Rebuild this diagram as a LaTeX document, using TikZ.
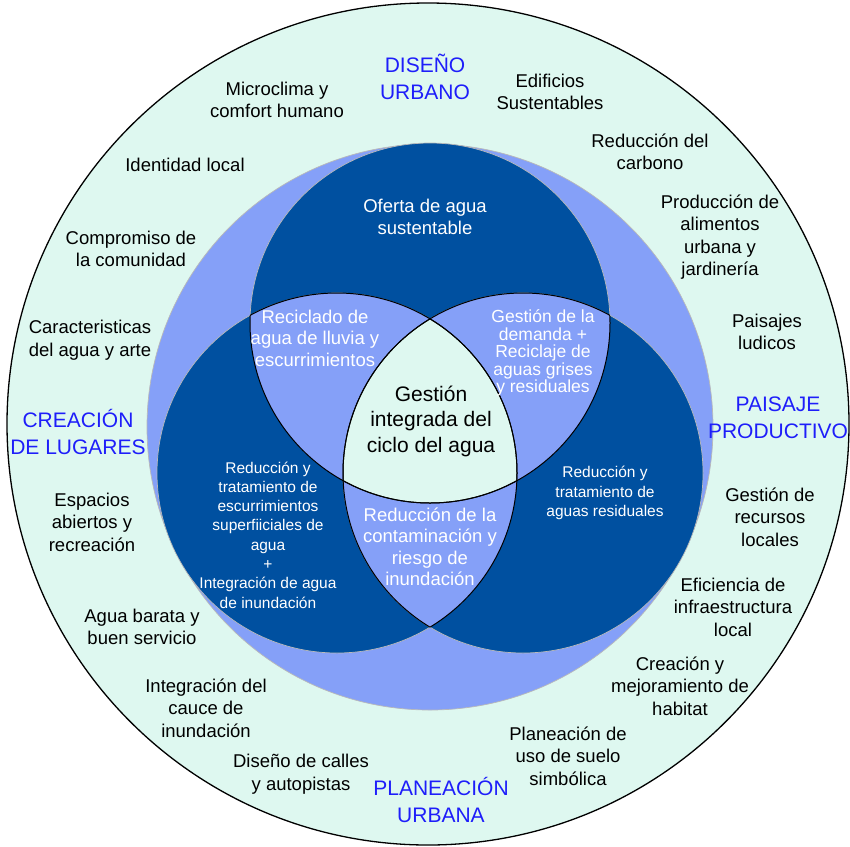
\documentclass[tikz,border=0pt]{standalone}
\usepackage{fontspec}
\setmainfont{Liberation Sans}
\usetikzlibrary{positioning}

\definecolor{mintbg}{RGB}{222,248,240}
\definecolor{ringblue}{RGB}{133,160,248}
\definecolor{darkblue}{RGB}{0,80,160}
\definecolor{zoneblue}{RGB}{30,30,250}

\begin{document}
\begin{tikzpicture}[x=1pt, y=-1pt,
  outer text/.style={align=center, inner sep=0pt, font=\fontsize{18.5}{22.5}\selectfont},
  zone text/.style={align=center, inner sep=0pt, text=zoneblue, font=\fontsize{21}{27}\selectfont},
  venn text/.style={align=center, inner sep=0pt, text=white, font=\fontsize{18.5}{21.5}\selectfont},
  small text/.style={venn text, font=\fontsize{15.5}{19.3}\selectfont},
  lens line/.style={black, line width=1pt},
  venn circle/.style={fill=darkblue, draw=gray!55, line width=0.7pt}]

  \useasboundingbox (0,0) rectangle (850,846);

  % Define circles
  \def\rv{180pt}
  \coordinate (ctop) at (430,323);
  \coordinate (cleft) at (337,473);
  \coordinate (cright) at (523,473);

  \draw[fill=mintbg, line width=1.3pt] (428,424) circle[radius=421pt];
  \draw[fill=ringblue, draw=gray!55, line width=0.7pt] (430,427) circle[radius=283pt];
  \foreach \c in {ctop, cleft, cright}
    \draw[venn circle] (\c) circle[radius=\rv];

  % Overlaps
  \begin{scope}
    \clip (ctop) circle[radius=\rv];
    \fill[ringblue] (cleft) circle[radius=\rv];
    \fill[ringblue] (cright) circle[radius=\rv];
  \end{scope}
  \begin{scope}
    \clip (cleft) circle[radius=\rv];
    \fill[ringblue] (cright) circle[radius=\rv];
  \end{scope}
  \begin{scope}
    \clip (ctop) circle[radius=\rv];
    \clip (cleft) circle[radius=\rv];
    \fill[mintbg] (cright) circle[radius=\rv];
  \end{scope}
  \foreach \a/\b in {ctop/cleft, ctop/cright, cleft/ctop, cleft/cright, cright/ctop, cright/cleft} {
    \begin{scope}
      \clip (\b) circle[radius=\rv];
      \draw[lens line] (\a) circle[radius=\rv];
    \end{scope}
  }

  % Define inner labels
  \node[venn text] (oferta) at (425,217) {Oferta de agua\\sustentable};
  \node[venn text] (reciclado) at (315,338) {Reciclado de\\agua de lluvia y\\escurrimientos};
  \node[venn text, font=\fontsize{17.5}{17.5}\selectfont] (demanda) at (543,353) {Gesti\'on de la\\demanda +\\Reciclaje de\\aguas grises\\y residuales};
  \node[align=center, inner sep=0pt, font=\fontsize{21}{25.5}\selectfont] (gestion) at (431,421) {Gesti\'on\\integrada del\\ciclo del agua};
  \node[small text] (escurrimientos) at (268,535) {Reducci\'on y\\tratamiento de\\escurrimientos\\superfiiciales de\\agua\\+\\Integraci\'on de agua\\de inundaci\'on};
  \node[venn text] (contaminacion) at (430,547) {Reducci\'on de la\\contaminaci\'on y\\riesgo de\\inundaci\'on};
  \node[small text] (residuales) at (605,493) {Reducci\'on y\\tratamiento de\\aguas residuales};

  % Define outer labels
  \node[zone text] (diseno) at (425,77) {DISE\~NO\\URBANO};
  \node[zone text] (creacion) at (78,432) {CREACI\'ON\\DE LUGARES};
  \node[zone text] (paisaje) at (778,418) {PAISAJE\\PRODUCTIVO};
  \node[zone text] (planeacion) at (441,800) {PLANEACI\'ON\\URBANA};

  \node[outer text] (microclima) at (277,100) {Microclima y\\comfort humano};
  \node[outer text] (edificios) at (550,92) {Edificios\\Sustentables};
  \node[outer text] (carbono) at (650,152) {Reducci\'on del\\carbono};
  \node[outer text] (identidad) at (185,165) {Identidad local};
  \node[outer text] (alimentos) at (720,237) {Producci\'on de\\alimentos\\urbana y\\jardiner\'ia};
  \node[outer text] (compromiso) at (131,249) {Compromiso de\\la comunidad};
  \node[outer text] (ludicos) at (767,332) {Paisajes\\ludicos};
  \node[outer text] (arte) at (90,340) {Caracteristicas\\del agua y arte};
  \node[outer text] (espacios) at (92,522) {Espacios\\abiertos y\\recreaci\'on};
  \node[outer text] (recursos) at (770,517) {Gesti\'on de\\recursos\\locales};
  \node[outer text] (eficiencia) at (733,607) {Eficiencia de\\infraestructura\\local};
  \node[outer text] (barata) at (142,627) {Agua barata y\\buen servicio};
  \node[outer text] (habitat) at (680,686) {Creaci\'on y\\mejoramiento de\\habitat};
  \node[outer text] (cauce) at (206,708) {Integraci\'on del\\cauce de\\inundaci\'on};
  \node[outer text] (suelo) at (568,756) {Planeaci\'on de\\uso de suelo\\simb\'olica};
  \node[outer text] (calles) at (301,774) {Dise\~no de calles\\y autopistas};
\end{tikzpicture}
\end{document}
